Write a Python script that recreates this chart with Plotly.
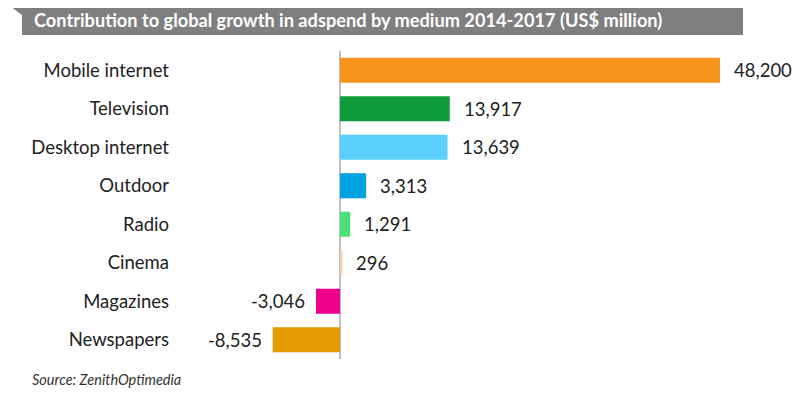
import plotly.graph_objects as go

categories = ["Mobile internet", "Television", "Desktop internet", "Outdoor",
              "Radio", "Cinema", "Magazines", "Newspapers"]
values = [48200, 13917, 13639, 3313, 1291, 296, -3046, -8535]
colors = ["#F7941D", "#0E9A3B", "#5BCFFB", "#00A3E0",
          "#4AE07A", "#F8CBAD", "#EC008C", "#E39B00"]
title_text = "Contribution to global growth in adspend by medium 2014-2017 (US$ million)"
source_text = "Source: ZenithOptimedia"

# the page body has an 8px default margin, so the figure is offset by 8px
OFF = 8
W, H = 800 - OFF, 395 - OFF
# plot area in page pixel coordinates
PL, PR, PT, PB = 172, 780, 51, 359
L, R, T, B = PL - OFF, W - (PR - OFF), PT - OFF, H - (PB - OFF)
pw = W - L - R
ph = H - T - B

def px(x):
    return (x - OFF - L) / pw

def py(y):
    return (H - B - (y - OFF)) / ph

k = 380 / 48200
xmin = -(340 - PL) / k
xmax = (PR - 340) / k

FONT = "Lato"

fig = go.Figure()
fig.add_trace(go.Bar(
    x=values, y=categories, orientation="h",
    marker=dict(color=colors, line=dict(width=0)),
    width=0.65, hoverinfo="skip",
))

annotations = []
for c, v in zip(categories, values):
    annotations.append(dict(
        x=v, y=c, xref="x", yref="y", text=f"{v:,}", showarrow=False,
        xanchor="left" if v >= 0 else "right",
        xshift=12 if v >= 0 else -9,
        font=dict(family=FONT, size=18.5, color="#222222"),
    ))

annotations.append(dict(
    x=px(32), y=py(20), xref="paper", yref="paper", text=f"<b>{title_text}</b>",
    showarrow=False, xanchor="left", yanchor="middle",
    font=dict(family=FONT, size=18.2, color="white"),
))
annotations.append(dict(
    x=px(30), y=py(379), xref="paper", yref="paper", text=f"<i>{source_text}</i>",
    showarrow=False, xanchor="left", yanchor="middle",
    font=dict(family=FONT, size=14.5, color="#333333"),
))

def P(x, y):
    return f"{px(x)},{py(y)}"

title_path = f"M {P(10,6)} L {P(743,6)} L {P(743,35)} L {P(22,35)} L {P(22,15)} Z"

fig.update_layout(
    width=W, height=H,
    margin=dict(l=L, r=R, t=T, b=B, autoexpand=False),
    paper_bgcolor="white", plot_bgcolor="white",
    showlegend=False,
    xaxis=dict(range=[xmin, xmax], showgrid=False, showticklabels=False,
               zeroline=True, zerolinecolor="#BFBFBF", zerolinewidth=2,
               showline=False, fixedrange=True),
    yaxis=dict(categoryorder="array", categoryarray=categories,
               autorange="reversed", showgrid=False, showline=False,
               ticks="", tickfont=dict(family=FONT, size=18.5, color="#222222"),
               ticklabelstandoff=2, fixedrange=True),
    shapes=[dict(type="path", path=title_path, xref="paper", yref="paper",
                 fillcolor="#7F7F7F", line=dict(width=0), layer="below")],
    annotations=annotations,
)

fig.write_html("out.html")
